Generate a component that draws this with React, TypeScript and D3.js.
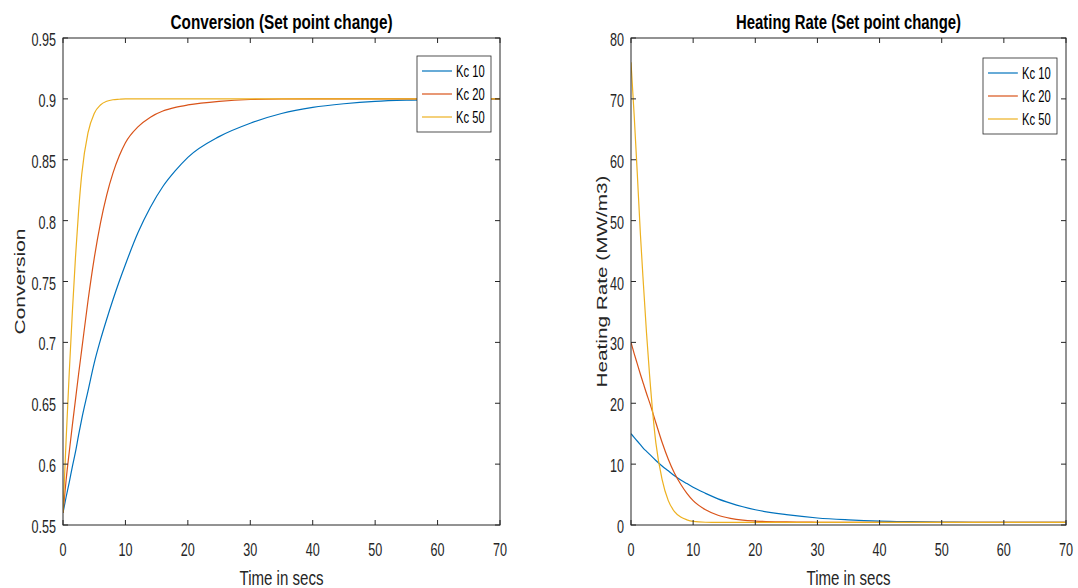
import React from 'react';
import * as d3 from 'd3';

// Sample times (s) shared by every response curve
const TIME = [0, 0.5, 1, 1.5, 2, 2.5, 3, 4, 5, 6, 7, 8, 9, 10, 12, 14, 16, 18, 20, 25, 30, 35, 40, 45, 50, 55, 60, 65, 70];

// Conversion after the set point change, one list per controller gain
const CONV_KC10 = [0.56, 0.573, 0.585, 0.598, 0.61, 0.624, 0.637, 0.66, 0.683, 0.702, 0.719, 0.735, 0.75, 0.764, 0.79, 0.811, 0.828, 0.841, 0.852, 0.869, 0.88, 0.888, 0.893, 0.896, 0.898, 0.899, 0.8995, 0.8998, 0.8999];
const CONV_KC20 = [0.56, 0.587, 0.61, 0.632, 0.653, 0.674, 0.694, 0.734, 0.769, 0.798, 0.821, 0.839, 0.853, 0.864, 0.877, 0.885, 0.89, 0.893, 0.895, 0.898, 0.8995, 0.8999, 0.9, 0.9, 0.9, 0.9, 0.9, 0.9, 0.9];
const CONV_KC50 = [0.56, 0.62, 0.675, 0.725, 0.77, 0.808, 0.838, 0.872, 0.888, 0.895, 0.898, 0.8993, 0.8997, 0.9, 0.9, 0.9, 0.9, 0.9, 0.9, 0.9, 0.9, 0.9, 0.9, 0.9, 0.9, 0.9, 0.9, 0.9, 0.9];

// Heating rate (MW/m3) after the set point change
const HEAT_KC10 = [15, 14.4, 13.8, 13.2, 12.6, 12.1, 11.6, 10.6, 9.7, 8.9, 8.1, 7.4, 6.8, 6.2, 5.2, 4.3, 3.6, 3.0, 2.5, 1.7, 1.15, 0.85, 0.65, 0.55, 0.48, 0.45, 0.43, 0.42, 0.42];
const HEAT_KC20 = [30, 28.2, 26.5, 24.8, 23.2, 21.6, 20.1, 16.8, 13.6, 10.8, 8.5, 6.7, 5.2, 4.0, 2.5, 1.6, 1.1, 0.8, 0.65, 0.5, 0.45, 0.43, 0.42, 0.42, 0.42, 0.42, 0.42, 0.42, 0.42];
const HEAT_KC50 = [76, 67.5, 58, 48, 39.5, 31.5, 24.5, 13.5, 7.5, 4.0, 2.2, 1.3, 0.85, 0.6, 0.45, 0.42, 0.42, 0.42, 0.42, 0.42, 0.42, 0.42, 0.42, 0.42, 0.42, 0.42, 0.42, 0.42, 0.42];

const SERIES_NAMES = ['Kc 10', 'Kc 20', 'Kc 50'];
const COLORS = ['#0072BD', '#D95319', '#EDB120'];

const X_TICKS = [0, 10, 20, 30, 40, 50, 60, 70];
const CONV_TICKS = [0.55, 0.6, 0.65, 0.7, 0.75, 0.8, 0.85, 0.9, 0.95];
const HEAT_TICKS = [0, 10, 20, 30, 40, 50, 60, 70, 80];

const FONT = "'Liberation Sans', Arial, Helvetica, sans-serif";
const INK = '#262626';
const SQUASH = 0.7; // horizontal narrowing of all lettering
const TICK_LEN = 5;

type PanelProps = {
  id: string;
  left: number;
  right: number;
  top: number;
  bottom: number;
  title: string;
  titleLen: number;
  ylabel: string;
  ylabelX: number;
  ylabelLen: number;
  yDomain: [number, number];
  yTicks: number[];
  series: number[][];
  legendTop: number;
};

function fmt(v: number) {
  return String(+v.toFixed(2));
}

function Panel(p: PanelProps) {
  const x = d3.scaleLinear().domain([0, 70]).range([p.left, p.right]);
  const y = d3.scaleLinear().domain(p.yDomain).range([p.bottom, p.top]);
  const line = d3
    .line<number>()
    .x((_, i) => x(TIME[i]))
    .y((v) => y(v))
    .curve(d3.curveMonotoneX);
  const cx = (p.left + p.right) / 2;
  const cy = (p.top + p.bottom) / 2;

  const legW = 74;
  const legX = p.right - 9 - legW;
  const legY = p.legendTop;
  const rowY = [15, 38, 61];

  return (
    <g>
      <defs>
        <clipPath id={p.id}>
          <rect x={p.left} y={p.top} width={p.right - p.left} height={p.bottom - p.top} />
        </clipPath>
      </defs>
      <rect x={p.left} y={p.top} width={p.right - p.left} height={p.bottom - p.top} fill="#fff" />
      <g clipPath={`url(#${p.id})`}>
        {p.series.map((s, i) => (
          <path key={i} d={line(s) || ''} fill="none" stroke={COLORS[i]} strokeWidth={1.2} />
        ))}
      </g>
      {/* axes box with inward ticks on all four sides */}
      <rect x={p.left} y={p.top} width={p.right - p.left} height={p.bottom - p.top} fill="none" stroke={INK} strokeWidth={1} />
      {X_TICKS.map((t) => (
        <g key={'x' + t}>
          <line x1={x(t)} x2={x(t)} y1={p.bottom} y2={p.bottom - TICK_LEN} stroke={INK} />
          <line x1={x(t)} x2={x(t)} y1={p.top} y2={p.top + TICK_LEN} stroke={INK} />
          <text
            transform={`translate(${x(t)},556) scale(${SQUASH},1)`}
            textAnchor="middle"
            fontSize={18}
            fontFamily={FONT}
            fill={INK}
          >
            {t}
          </text>
        </g>
      ))}
      {p.yTicks.map((t) => (
        <g key={'y' + t}>
          <line x1={p.left} x2={p.left + TICK_LEN} y1={y(t)} y2={y(t)} stroke={INK} />
          <line x1={p.right} x2={p.right - TICK_LEN} y1={y(t)} y2={y(t)} stroke={INK} />
          <text
            transform={`translate(${p.left - 7},${y(t) + 8}) scale(${SQUASH},1)`}
            textAnchor="end"
            fontSize={18}
            fontFamily={FONT}
            fill={INK}
          >
            {fmt(t)}
          </text>
        </g>
      ))}
      {/* title and axis labels */}
      <text
        x={cx}
        y={29}
        textAnchor="middle"
        fontSize={20}
        fontWeight="bold"
        fontFamily={FONT}
        fill="#000"
        textLength={p.titleLen}
        lengthAdjust="spacingAndGlyphs"
      >
        {p.title}
      </text>
      <text
        x={cx}
        y={585}
        textAnchor="middle"
        fontSize={20}
        fontFamily={FONT}
        fill={INK}
        textLength={84}
        lengthAdjust="spacingAndGlyphs"
      >
        Time in secs
      </text>
      <text
        transform={`translate(${p.ylabelX},${cy}) scale(${SQUASH},1) rotate(-90)`}
        textAnchor="middle"
        fontSize={21}
        fontFamily={FONT}
        fill={INK}
        textLength={p.ylabelLen}
        lengthAdjust="spacingAndGlyphs"
      >
        {p.ylabel}
      </text>
      {/* legend */}
      <rect x={legX} y={legY} width={legW} height={76} fill="#fff" stroke={INK} strokeWidth={0.8} />
      {SERIES_NAMES.map((name, i) => (
        <g key={name}>
          <line x1={legX + 5} x2={legX + 35} y1={legY + rowY[i]} y2={legY + rowY[i]} stroke={COLORS[i]} strokeWidth={1.2} />
          <text
            transform={`translate(${legX + 39},${legY + rowY[i] + 6}) scale(${SQUASH},1)`}
            fontSize={16}
            fontFamily={FONT}
            fill="#000"
          >
            {name}
          </text>
        </g>
      ))}
    </g>
  );
}

export default function App() {
  return (
    <svg
      width={1078}
      height={588}
      style={{ position: 'absolute', left: 0, top: 0, background: '#fff' }}
    >
      <rect width={1078} height={588} fill="#fff" />
      <Panel
        id="clip-conv"
        left={63}
        right={500}
        top={38}
        bottom={525}
        title="Conversion (Set point change)"
        titleLen={222}
        ylabel="Conversion"
        ylabelX={25}
        ylabelLen={106}
        yDomain={[0.55, 0.95]}
        yTicks={CONV_TICKS}
        series={[CONV_KC10, CONV_KC20, CONV_KC50]}
        legendTop={56}
      />
      <Panel
        id="clip-heat"
        left={631}
        right={1066}
        top={38}
        bottom={525}
        title="Heating Rate (Set point change)"
        titleLen={225}
        ylabel="Heating Rate (MW/m3)"
        ylabelX={607}
        ylabelLen={212}
        yDomain={[0, 80]}
        yTicks={HEAT_TICKS}
        series={[HEAT_KC10, HEAT_KC20, HEAT_KC50]}
        legendTop={58}
      />
    </svg>
  );
}
